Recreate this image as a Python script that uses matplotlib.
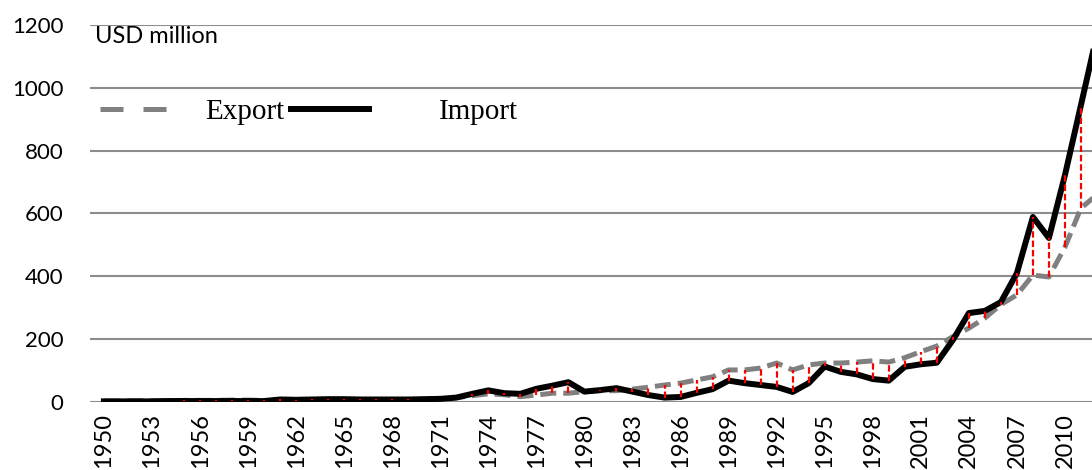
import matplotlib.pyplot as plt
from matplotlib.lines import Line2D
import numpy as np

years = list(range(1950, 2013))

export = [3, 3, 4, 4, 4, 5, 5, 5, 6, 6, 5,
          4, 4, 5, 5, 6, 6, 6,
          7, 7, 8, 9, 14, 20, 26, 23, 17, 22, 28, 28,
          33, 36, 36, 41, 47, 54, 60, 70, 80, 102,
          102, 108, 124, 102, 118, 124, 124, 127, 131, 127,
          141, 160, 178, 208, 235, 267, 310, 341, 404, 398,
          493, 617, 660]

imports = [2, 2, 2, 2, 3, 3, 3, 3, 3, 3, 3,
           8, 7, 8, 9, 9, 8, 8,
           8, 8, 9, 10, 14, 26, 37, 28, 26, 42, 52, 63,
           33, 38, 44, 33, 22, 14, 16, 29, 41, 68,
           60, 54, 48, 32, 60, 113, 96, 88, 73, 68,
           112, 120, 125, 197, 283, 290, 318, 410, 589, 522,
           722, 945, 1170]

yticks = [0, 200, 400, 600, 800, 1000, 1200]
xticks = list(range(1950, 2011, 3))

fig = plt.figure(figsize=(10.92, 4.70), dpi=100)
ax = fig.add_axes([0.0824, 0.1447, 0.9176, 0.8021])

ax.plot(years, export, color='#808080', linewidth=3.6, linestyle=(0, (3.2, 1.4)),
        zorder=3)
ax.plot(years, imports, color='black', linewidth=4.3, zorder=4)

# red difference lines between the two series, drawn on top
lo = np.minimum(export, imports)
hi = np.maximum(export, imports)
ax.vlines(years, lo, hi, colors='red', linestyles=(0, (2.9, 1.3)), linewidth=1.6, zorder=5)

ax.set_xlim(1949.13, 2011.69)
ax.set_ylim(0, 1200)
ax.set_yticks(yticks)
ax.set_xticks(xticks)
ax.set_xticklabels([str(x) for x in xticks], rotation=90, fontsize=17,
                   family=['Lato', 'DejaVu Sans'])
ax.set_yticklabels([str(y) for y in yticks], fontsize=16,
                   family=['Lato', 'DejaVu Sans'])
ax.tick_params(axis='y', length=0, pad=19)
ax.tick_params(axis='x', length=0, pad=8)
ax.yaxis.grid(True, color='#8c8c8c', linewidth=1.5)
ax.set_axisbelow(True)
for s in ax.spines.values():
    s.set_visible(False)

ax.text(0.005, 0.997, 'USD million', transform=ax.transAxes, fontsize=17,
        va='top', ha='left', family=['Lato', 'DejaVu Sans'])

# legend, two entries placed like the original
exp_handle = Line2D([], [], color='#808080', linewidth=3.6, linestyle=(0, (4.6, 4.0)))
imp_handle = Line2D([], [], color='black', linewidth=4.3)
font = {'family': 'Liberation Serif', 'size': 21}
leg1 = ax.legend([exp_handle], ['Export'], loc='center left',
                 bbox_to_anchor=(100 / 1092, 1 - 112 / 470), bbox_transform=fig.transFigure,
                 frameon=False, prop=font, handlelength=2.34, handletextpad=1.28,
                 borderpad=0, borderaxespad=0)
ax.add_artist(leg1)
ax.legend([imp_handle], ['Import'], loc='center left',
          bbox_to_anchor=(291 / 1092, 1 - 112 / 470), bbox_transform=fig.transFigure,
          frameon=False, prop=font, handlelength=2.66, handletextpad=2.41,
          borderpad=0, borderaxespad=0)

fig.savefig('out.png', dpi=100)
